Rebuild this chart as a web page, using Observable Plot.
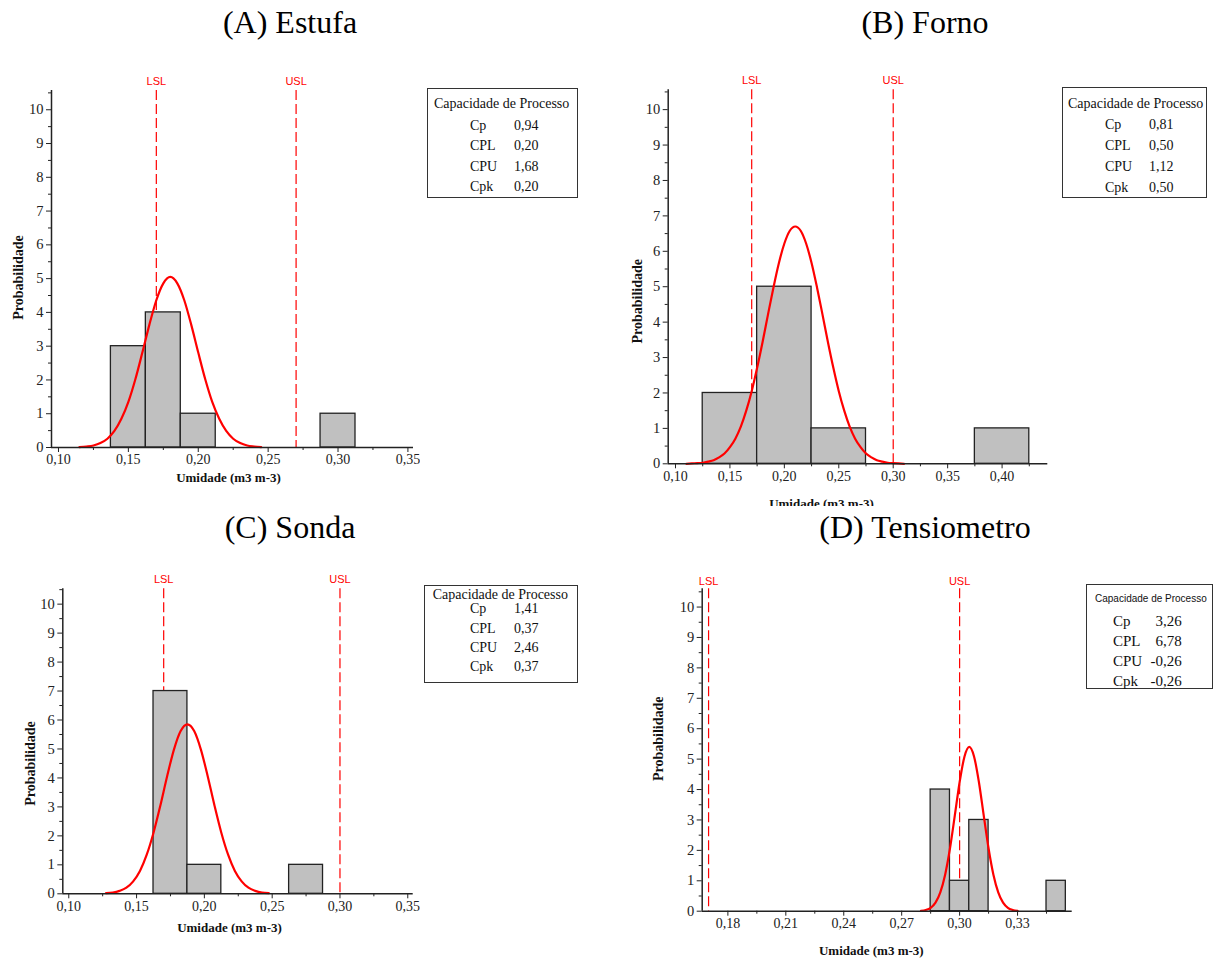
<!DOCTYPE html>
<html><head><meta charset="utf-8">
<script src="https://cdn.jsdelivr.net/npm/d3@7"></script>
<script src="https://cdn.jsdelivr.net/npm/@observablehq/plot@0.6"></script>
<style>
body{margin:0;background:#fff;}
#page{position:relative;width:1214px;height:958px;overflow:hidden;font-family:"Liberation Serif","Times New Roman",serif;color:#000;}
.title{position:absolute;font-size:32px;line-height:36px;text-align:center;width:400px;}
.panel{position:absolute;}
.panel svg{display:block;}
.box{position:absolute;border:1px solid #333;box-sizing:border-box;}
.t{position:absolute;white-space:nowrap;line-height:1;transform:translateY(-50%);color:#111;}
</style></head><body><div id="page"></div><script>
// ---------- data ----------
const titles = ["(A) Estufa", "(B) Forno", "(C) Sonda", "(D) Tensiometro"];
const xLabel = "Umidade (m3 m-3)";
const yLabel = "Probabilidade";
const specLabels = ["LSL", "USL"];

const capTitle = "Capacidade de Processo";
const capLabels = ["Cp", "CPL", "CPU", "Cpk"];
const capA = ["0,94", "0,20", "1,68", "0,20"];
const capB = ["0,81", "0,50", "1,12", "0,50"];
const capC = ["1,41", "0,37", "2,46", "0,37"];
const capD = ["3,26", "6,78", "-0,26", "-0,26"];

const specA = [0.17, 0.27];
const specB = [0.17, 0.30];
const specC = [0.17, 0.30];
const specD = [0.17, 0.30];

const binCentersA = [0.15, 0.175, 0.20, 0.30];
const countsA = [3, 4, 1, 1];
const binWidthA = 0.025;
const binCentersB = [0.15, 0.20, 0.25, 0.40];
const countsB = [2, 5, 1, 1];
const binWidthB = 0.05;
const binCentersC = [0.175, 0.20, 0.275];
const countsC = [7, 1, 1];
const binWidthC = 0.025;
const binCentersD = [0.29, 0.30, 0.31, 0.35];
const countsD = [4, 1, 3, 1];
const binWidthD = 0.01;

// fitted normal curves
const curveAx = [0.115,0.12,0.125,0.13,0.135,0.14,0.145,0.15,0.155,0.16,0.165,0.17,0.175,0.18,0.185,0.19,0.195,0.20,0.205,0.21,0.215,0.22,0.225,0.23,0.235,0.24,0.245];
const curveAy = [0.01,0.03,0.06,0.13,0.26,0.49,0.85,1.35,2.02,2.81,3.63,4.36,4.86,5.05,4.86,4.36,3.63,2.81,2.02,1.35,0.85,0.49,0.26,0.13,0.06,0.03,0.01];
const curveBx = [0.11,0.115,0.12,0.125,0.13,0.135,0.14,0.145,0.15,0.155,0.16,0.165,0.17,0.175,0.18,0.185,0.19,0.195,0.20,0.205,0.21,0.215,0.22,0.225,0.23,0.235,0.24,0.245,0.25,0.255,0.26,0.265,0.27,0.275,0.28,0.285,0.29,0.295,0.30,0.305,0.31];
const curveBy = [0.00,0.01,0.02,0.03,0.06,0.10,0.18,0.29,0.47,0.71,1.05,1.50,2.05,2.71,3.44,4.22,4.98,5.67,6.22,6.58,6.70,6.58,6.22,5.67,4.98,4.22,3.44,2.71,2.05,1.50,1.05,0.71,0.47,0.29,0.18,0.10,0.06,0.03,0.02,0.01,0.00];
const curveCx = [0.1275,0.1325,0.1375,0.1425,0.1475,0.1525,0.1575,0.1625,0.1675,0.1725,0.1775,0.1825,0.1875,0.1925,0.1975,0.2025,0.2075,0.2125,0.2175,0.2225,0.2275,0.2325,0.2375,0.2425,0.2475];
const curveCy = [0.02,0.04,0.10,0.21,0.43,0.79,1.35,2.11,3.04,4.05,4.97,5.62,5.85,5.62,4.97,4.05,3.04,2.11,1.35,0.79,0.43,0.21,0.10,0.04,0.02];
const curveDx = [0.28,0.2825,0.285,0.2875,0.29,0.2925,0.295,0.2975,0.30,0.3025,0.305,0.3075,0.31,0.3125,0.315,0.3175,0.32,0.3225,0.325,0.3275,0.33];
const curveDy = [0.01,0.04,0.11,0.28,0.62,1.20,2.06,3.14,4.24,5.08,5.40,5.08,4.24,3.14,2.06,1.20,0.62,0.28,0.11,0.04,0.01];

const xTicksA = [0.10, 0.15, 0.20, 0.25, 0.30, 0.35];
const xMinorA = [0.125, 0.175, 0.225, 0.275, 0.325];
const xTicksB = [0.10, 0.15, 0.20, 0.25, 0.30, 0.35, 0.40];
const xMinorB = [0.125, 0.175, 0.225, 0.275, 0.325, 0.375, 0.425];
const xTicksC = [0.10, 0.15, 0.20, 0.25, 0.30, 0.35];
const xMinorC = [0.125, 0.175, 0.225, 0.275, 0.325];
const xTicksD = [0.18, 0.21, 0.24, 0.27, 0.30, 0.33];
const xMinorD = [0.195, 0.225, 0.255, 0.285, 0.315, 0.345];
const yTicks = [0, 1, 2, 3, 4, 5, 6, 7, 8, 9, 10];
const yMinor = [0.5, 1.5, 2.5, 3.5, 4.5, 5.5, 6.5, 7.5, 8.5, 9.5, 10.5];

// ---------- layout ----------
const panels = [
  {title: titles[0], cx: 290, cy: 22, left: 0, top: 60, width: 420, height: 430, mL: 51, mR: 7, mT: 30, mB: 43,
   xDom: [0.095, 0.354], yTop: 10.57, xTicks: xTicksA, xMinor: xMinorA, centers: binCentersA, counts: countsA, bw: binWidthA,
   cx_: curveAx, cy_: curveAy, spec: specA, specDy: -9, yLab: [18, 277], xLab: [228, 477]},
  {title: titles[1], cx: 925, cy: 22, left: 620, top: 60, width: 440, height: 446, mL: 47.7, mR: 12.7, mT: 29.3, mB: 42.7,
   xDom: [0.0933, 0.442], yTop: 10.56, xTicks: xTicksB, xMinor: xMinorB, centers: binCentersB, counts: countsB, bw: binWidthB,
   cx_: curveBx, cy_: curveBy, spec: specB, specDy: -9, yLab: [636.7, 300.8], xLab: [821, 503]},
  {title: titles[2], cx: 290, cy: 527, left: 0, top: 560, width: 420, height: 380, mL: 62.3, mR: 7.3, mT: 28.3, mB: 46.7,
   xDom: [0.0956, 0.354], yTop: 10.53, xTicks: xTicksC, xMinor: xMinorC, centers: binCentersC, counts: countsC, bw: binWidthC,
   cx_: curveCx, cy_: curveCy, spec: specC, specDy: -9, yLab: [30, 763], xLab: [229, 927]},
  {title: titles[3], cx: 925, cy: 527, left: 640, top: 570, width: 440, height: 388, mL: 61.7, mR: 8.3, mT: 18.3, mB: 47.3,
   xDom: [0.1667, 0.3583], yTop: 10.6, xTicks: xTicksD, xMinor: xMinorD, centers: binCentersD, counts: countsD, bw: binWidthD,
   cx_: curveDx, cy_: curveDy, spec: specD, specDy: -7, yLab: [658.3, 738.3], xLab: [870.8, 950]}
];

const page = document.getElementById("page");
const fmt = d => d.toFixed(2).replace(".", ",");

for (const p of panels) {
  const t = document.createElement("div");
  t.className = "title";
  t.style.left = (p.cx - 200) + "px";
  t.style.top = (p.cy - 18) + "px";
  t.textContent = p.title;
  page.appendChild(t);

  const bins = p.centers.map((c, i) => ({x1: c - p.bw / 2, x2: c + p.bw / 2, count: p.counts[i]}));
  const frameTop = p.top + p.mT, frameLeft = p.left + p.mL;

  const chart = Plot.plot({
    width: p.width, height: p.height,
    marginLeft: p.mL, marginRight: p.mR, marginTop: p.mT, marginBottom: p.mB,
    x: {type: "linear", domain: p.xDom},
    y: {type: "linear", domain: [0, p.yTop]},
    style: {fontFamily: "Liberation Serif", fontSize: "14px", color: "#222", background: "transparent"},
    marks: [
      Plot.ruleX(p.spec, {x: d => d, stroke: "#ff0000", strokeWidth: 1.2, strokeDasharray: "10,4"}),
      Plot.rect(bins, {x1: "x1", x2: "x2", y1: 0, y2: "count", fill: "#c0c0c0", stroke: "#222", strokeWidth: 1.3}),
      Plot.line(p.cx_, {x: d => d, y: (d, i) => p.cy_[i], curve: "monotone-x", stroke: "#ff0000", strokeWidth: 2.2}),
      Plot.ruleY([0], {stroke: "#222", strokeWidth: 1.5}),
      Plot.ruleX([p.xDom[0]], {stroke: "#222", strokeWidth: 1.5}),
      Plot.axisX(p.xTicks, {tickSize: 5, tickPadding: 2, tickFormat: fmt, label: null, fontSize: 14}),
      Plot.axisX(p.xMinor, {tickSize: 3, tickFormat: () => "", label: null}),
      Plot.axisY(yTicks, {tickSize: 5, tickPadding: 3, label: null, fontSize: 14.5}),
      Plot.axisY(yMinor, {tickSize: 3, tickFormat: () => "", label: null}),
      Plot.text(p.spec, {x: d => d, text: (d, i) => specLabels[i], frameAnchor: "top", dy: p.specDy,
        lineAnchor: "middle", textAnchor: "middle",
        fill: "#ff0000", fontFamily: "Liberation Sans", fontSize: 11}),
      Plot.text([yLabel], {frameAnchor: "top-left", dx: p.yLab[0] - frameLeft, dy: p.yLab[1] - frameTop,
        textAnchor: "middle", lineAnchor: "middle",
        rotate: -90, fontWeight: "bold", fontSize: 14, fill: "#111"}),
      Plot.text([xLabel], {frameAnchor: "top-left", dx: p.xLab[0] - frameLeft, dy: p.xLab[1] - frameTop,
        textAnchor: "middle", lineAnchor: "middle",
        fontWeight: "bold", fontSize: 13, fill: "#111"})
    ]
  });
  const holder = document.createElement("div");
  holder.className = "panel";
  holder.style.left = p.left + "px";
  holder.style.top = p.top + "px";
  holder.style.width = p.width + "px";
  holder.style.height = p.height + "px";
  holder.appendChild(chart);
  page.appendChild(holder);
}

// ---------- capability boxes ----------
const boxes = [
  {vals: capA, left: 427, top: 88, w: 151, h: 110, titleX: 434, titleY: 104, titleFont: "14px 'Liberation Serif'",
   rows: [125.7, 145.5, 166.7, 187], labX: 470, valX: 514, rowFont: 14, rightAlign: false},
  {vals: capB, left: 1062, top: 87, w: 145, h: 111, titleX: 1068, titleY: 104, titleFont: "14px 'Liberation Serif'",
   rows: [125, 145.5, 167, 188], labX: 1105, valX: 1149, rowFont: 14, rightAlign: false},
  {vals: capC, left: 424, top: 585, w: 154, h: 98, titleX: 432.7, titleY: 595, titleFont: "14px 'Liberation Serif'",
   rows: [609, 628.5, 648, 667], labX: 470, valX: 514, rowFont: 14, rightAlign: false},
  {vals: capD, left: 1086, top: 584, w: 127, h: 105, titleX: 1095, titleY: 599, titleFont: "10px 'Liberation Sans'",
   rows: [621, 640.5, 661, 680.5], labX: 1113, valX: 1181.7, rowFont: 15, rightAlign: true}
];
for (const b of boxes) {
  const box = document.createElement("div");
  box.className = "box";
  Object.assign(box.style, {left: b.left + "px", top: b.top + "px", width: b.w + "px", height: b.h + "px"});
  page.appendChild(box);
  const tt = document.createElement("div");
  tt.className = "t";
  tt.style.font = b.titleFont;
  tt.style.lineHeight = "1";
  tt.style.left = b.titleX + "px";
  tt.style.top = b.titleY + "px";
  tt.textContent = capTitle;
  page.appendChild(tt);
  capLabels.forEach((lab, i) => {
    const l = document.createElement("div");
    l.className = "t";
    l.style.fontSize = b.rowFont + "px";
    l.style.left = b.labX + "px";
    l.style.top = b.rows[i] + "px";
    l.textContent = lab;
    page.appendChild(l);
    const v = document.createElement("div");
    v.className = "t";
    v.style.fontSize = b.rowFont + "px";
    if (b.rightAlign) { v.style.right = (1214 - b.valX) + "px"; }
    else { v.style.left = b.valX + "px"; }
    v.style.top = b.rows[i] + "px";
    v.textContent = b.vals[i];
    page.appendChild(v);
  });
}
</script></body></html>
